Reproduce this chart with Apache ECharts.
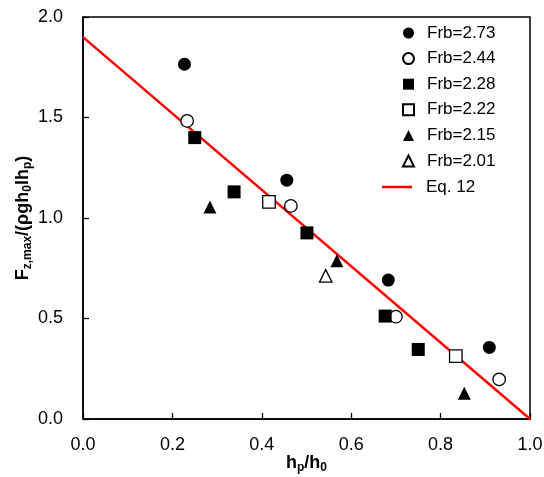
<!DOCTYPE html>
<html>
<head>
<meta charset="utf-8">
<script src="https://cdn.jsdelivr.net/npm/echarts@6/dist/echarts.min.js"></script>
<style>
  html, body { margin: 0; padding: 0; background: #fff; }
  #chart { width: 544px; height: 477px; }
</style>
</head>
<body>
<div id="chart"></div>
<script>
// Measured points, one pair of arrays per Froude number (x = hp/h0, y = normalised force)
const frb273X = [0.227, 0.456, 0.683, 0.909];
const frb273Y = [1.765, 1.188, 0.691, 0.356];
const frb244X = [0.233, 0.465, 0.700, 0.931];
const frb244Y = [1.483, 1.060, 0.509, 0.197];
const frb228X = [0.250, 0.338, 0.501, 0.676, 0.750];
const frb228Y = [1.400, 1.130, 0.926, 0.512, 0.346];
const frb222X = [0.416, 0.834];
const frb222Y = [1.080, 0.313];
const frb215X = [0.284, 0.568, 0.853];
const frb215Y = [1.055, 0.787, 0.128];
const frb201X = [0.543];
const frb201Y = [0.712];

// Eq. 12 end points
const eqX = [0, 1];
const eqY = [1.9, 0];

const seriesNames = ['Frb=2.73', 'Frb=2.44', 'Frb=2.28', 'Frb=2.22', 'Frb=2.15', 'Frb=2.01'];
const lineName = 'Eq. 12';

const xTicks = [0, 0.2, 0.4, 0.6, 0.8, 1.0];
const yTicks = [0, 0.5, 1.0, 1.5, 2.0];

const FONT = 'Arial, "Liberation Sans", sans-serif';

function pairs(xs, ys) { return xs.map((x, i) => [x, ys[i]]); }

const filled = { color: '#000', borderColor: '#000', borderWidth: 0, opacity: 1 };
const hollow = { color: '#fff', borderColor: '#000', borderWidth: 1.3, opacity: 1 };

function scatter(name, xs, ys, symbol, style, size) {
  return {
    name, type: 'scatter', data: pairs(xs, ys), symbol, symbolSize: size,
    itemStyle: style, z: 3
  };
}

const legendText = { fontFamily: FONT, fontSize: 17, lineHeight: 18, color: '#000' };

const nameRich = {
  b: { fontFamily: FONT, fontSize: 18, fontWeight: 'bold', color: '#000', lineHeight: 24 },
  s: { fontFamily: FONT, fontSize: 12, fontWeight: 'bold', color: '#000', lineHeight: 12, padding: [10, 0, 0, 0] }
};

const chart = echarts.init(document.getElementById('chart'), null, { renderer: 'canvas' });
chart.setOption({
  animation: false,
  backgroundColor: '#fff',
  textStyle: { fontFamily: FONT, color: '#000' },
  grid: {
    left: 83, right: 14, top: 17, bottom: 58,
    containLabel: false, outerBoundsMode: 'none',
    show: true, borderColor: '#000', borderWidth: 1.5, backgroundColor: 'transparent'
  },
  legend: [
    {
      data: seriesNames,
      orient: 'vertical', left: 397, top: 19,
      itemWidth: 11, itemHeight: 11, itemGap: 7.6,
      textStyle: Object.assign({}, legendText, { padding: [0, 0, 0, 8] })
    },
    {
      data: [{ name: lineName, icon: 'rect' }],
      orient: 'vertical', left: 377, top: 173,
      itemWidth: 30, itemHeight: 2.5,
      textStyle: Object.assign({}, legendText, { padding: [0, 0, 0, 9] })
    }
  ],
  xAxis: {
    type: 'value', min: xTicks[0], max: xTicks[xTicks.length - 1], interval: 0.2,
    name: '{b|h}{s|p}{b|/h}{s|0}', nameLocation: 'middle', nameGap: 32, nameMoveOverlap: false,
    nameTextStyle: { rich: nameRich },
    axisLine: { show: true, onZero: false, lineStyle: { color: '#000', width: 1.5 } },
    axisTick: { show: true, inside: true, length: 6, lineStyle: { color: '#000', width: 1.3 } },
    axisLabel: { fontFamily: FONT, fontSize: 18, color: '#000', margin: 17, formatter: v => v.toFixed(1) },
    splitLine: { show: false }
  },
  yAxis: {
    type: 'value', min: yTicks[0], max: yTicks[yTicks.length - 1], interval: 0.5,
    name: '{b|F}{s|z,max}{b|/(ρgh}{s|0}{b|lh}{s|p}{b|)}', nameLocation: 'middle', nameGap: 48, nameMoveOverlap: false,
    nameTextStyle: { rich: nameRich },
    axisLine: { show: true, onZero: false, lineStyle: { color: '#000', width: 1.5 } },
    axisTick: { show: true, inside: true, length: 6, lineStyle: { color: '#000', width: 1.3 } },
    axisLabel: { fontFamily: FONT, fontSize: 18, color: '#000', margin: 20, formatter: v => v.toFixed(1) },
    splitLine: { show: false }
  },
  series: [
    scatter(seriesNames[0], frb273X, frb273Y, 'circle', filled, 13),
    scatter(seriesNames[1], frb244X, frb244Y, 'circle', hollow, 12.5),
    scatter(seriesNames[2], frb228X, frb228Y, 'rect', filled, 13),
    scatter(seriesNames[3], frb222X, frb222Y, 'rect', hollow, 12.5),
    scatter(seriesNames[4], frb215X, frb215Y, 'triangle', filled, 13),
    scatter(seriesNames[5], frb201X, frb201Y, 'triangle', hollow, 12.5),
    {
      name: lineName, type: 'line', data: pairs(eqX, eqY),
      symbol: 'none', showSymbol: false,
      lineStyle: { color: '#ff0000', width: 2.5 },
      itemStyle: { color: '#ff0000' }, z: 2
    }
  ]
});
</script>
</body>
</html>
